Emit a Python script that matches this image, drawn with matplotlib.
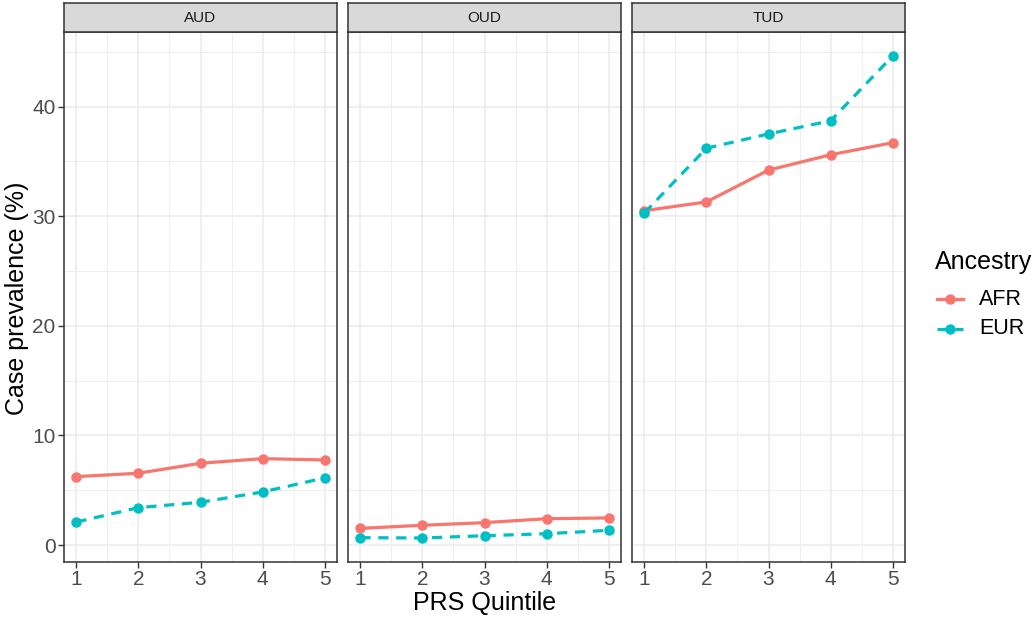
import matplotlib
matplotlib.use("Agg")
import matplotlib.pyplot as plt
from matplotlib.ticker import MultipleLocator
from matplotlib.lines import Line2D

plt.rcParams['font.family'] = ['Liberation Sans', 'DejaVu Sans']

# data
quintiles = [1, 2, 3, 4, 5]
panels = ["AUD", "OUD", "TUD"]
afr = {
    "AUD": [6.24, 6.55, 7.46, 7.88, 7.76],
    "OUD": [1.52, 1.80, 2.04, 2.40, 2.47],
    "TUD": [30.5, 31.3, 34.2, 35.6, 36.7],
}
eur = {
    "AUD": [2.10, 3.41, 3.90, 4.84, 6.12],
    "OUD": [0.67, 0.64, 0.85, 1.03, 1.34],
    "TUD": [30.3, 36.2, 37.5, 38.7, 44.6],
}
ancestry = ["AFR", "EUR"]
colors = {"AFR": "#F8766D", "EUR": "#00BFC4"}
styles = {"AFR": "-", "EUR": (0, (3.2, 2.4))}

W, H = 1035, 618
fig = plt.figure(figsize=(W / 100, H / 100), dpi=100)

def px(x0, y0, x1, y1):
    # pixel box -> figure fraction
    return [x0 / W, 1 - y1 / H, (x1 - x0) / W, (y1 - y0) / H]

lefts = [64, 348, 632]
pw = 273
top, bottom = 32, 562
strip_top = 3

ymin, ymax = -1.55, 46.8
for i, name in enumerate(panels):
    x0 = lefts[i]
    ax = fig.add_axes(px(x0, top, x0 + pw, bottom))
    ax.set_xlim(0.8, 5.2)
    ax.set_ylim(ymin, ymax)
    ax.xaxis.set_major_locator(MultipleLocator(1))
    ax.xaxis.set_minor_locator(MultipleLocator(0.5))
    ax.yaxis.set_major_locator(MultipleLocator(10))
    ax.yaxis.set_minor_locator(MultipleLocator(5))
    ax.grid(which='major', color='#EBEBEB', lw=1.1)
    ax.grid(which='minor', color='#EBEBEB', lw=0.6)
    ax.set_axisbelow(True)
    for s in ax.spines.values():
        s.set_color('#333333')
        s.set_linewidth(1.1)
    ax.tick_params(which='minor', length=0)
    ax.tick_params(which='major', length=4, color='#333333', width=1.0,
                   labelsize=15, labelcolor='#4D4D4D', pad=2)
    if i > 0:
        ax.tick_params(axis='y', left=False, labelleft=False)

    for a, vals in (("AFR", afr[name]), ("EUR", eur[name])):
        ax.plot(quintiles, vals, color=colors[a], ls=styles[a], lw=2.3,
                marker='o', ms=6.5, zorder=3)

    # facet strip
    sax = fig.add_axes(px(x0, strip_top, x0 + pw, top))
    sax.set_facecolor('#D9D9D9')
    sax.set_xticks([])
    sax.set_yticks([])
    for s in sax.spines.values():
        s.set_color('#333333')
        s.set_linewidth(1.1)
    sax.text(0.5, 0.5, name, ha='center', va='center', fontsize=11,
             color='#1A1A1A', transform=sax.transAxes)

fig.text(17 / W, 1 - 298 / H, "Case prevalence (%)", rotation=90,
         ha='center', va='center', fontsize=18)
fig.text(485 / W, 1 - 603 / H, "PRS Quintile", ha='center', va='center',
         fontsize=18)

# legend
fig.text(935 / W, 1 - 262 / H, "Ancestry", ha='left', va='center', fontsize=18)
key_y = [299, 329]
for a, ky in zip(ancestry, key_y):
    fig.add_artist(Line2D([937 / W, 963 / W], [1 - ky / H, 1 - ky / H],
                          color=colors[a], ls=styles[a], lw=2.3))
    fig.add_artist(Line2D([950 / W], [1 - ky / H], color=colors[a],
                          marker='o', ms=6.5, ls='none'))
    fig.text(979 / W, 1 - ky / H, a, ha='left', va='center', fontsize=15.5)

fig.savefig("out.png", dpi=100)
